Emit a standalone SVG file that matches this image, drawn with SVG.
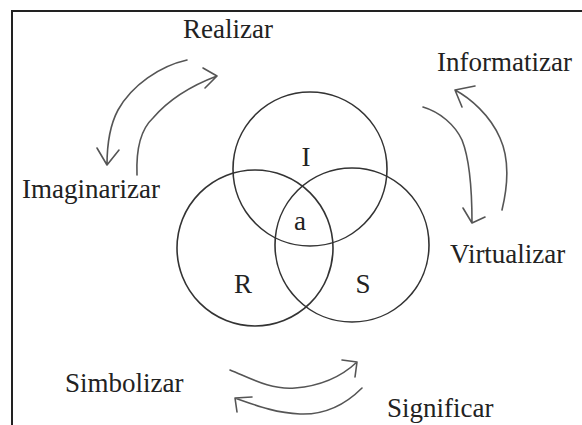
<svg xmlns="http://www.w3.org/2000/svg" width="582" height="425" viewBox="0 0 582 425">
<style>
.t{font-family:"Liberation Serif","Times New Roman",serif;font-size:27px;fill:#222}
.c{fill:none;stroke:#333;stroke-width:1.6}
.a{fill:none;stroke:#555;stroke-width:1.6;stroke-linecap:round;stroke-linejoin:round}
</style>
<rect width="582" height="425" fill="#fff"/>
<path d="M12,425 V11 H582" fill="none" stroke="#222" stroke-width="2"/>
<g id="circle-I"><circle class="c" cx="310" cy="169" r="77"/><text class="t" x="306" y="166" text-anchor="middle">I</text></g>
<g id="circle-R"><circle class="c" cx="255" cy="248" r="78"/><text class="t" x="243" y="293" text-anchor="middle">R</text></g>
<g id="circle-S"><circle class="c" cx="352" cy="245" r="77"/><text class="t" x="363" y="293" text-anchor="middle">S</text></g>
<g id="center-a"><text class="t" x="300" y="230" text-anchor="middle">a</text></g>
<g id="realizar"><text class="t" x="183" y="38">Realizar</text></g>
<g id="imaginarizar"><text class="t" x="22" y="198">Imaginarizar</text></g>
<g id="informatizar"><text class="t" x="437" y="71">Informatizar</text></g>
<g id="virtualizar"><text class="t" x="450" y="263">Virtualizar</text></g>
<g id="simbolizar"><text class="t" x="65" y="392">Simbolizar</text></g>
<g id="significar"><text class="t" x="387" y="417">Significar</text></g>
<g id="connectors">
<path class="a" d="M187,60 C160,66 132,85 118,110 C110,125 107,145 107,165 M97,148 L107,165 L119,150"/>
<path class="a" d="M137,175 C136,150 140,130 153,118 C165,104 185,88 217,76 M203,68 L217,76 L205,88"/>
<path class="a" d="M423,107 C440,112 455,125 462,140 C470,160 472,190 472,223 M463,208 L472,223 L485,217"/>
<path class="a" d="M502,210 C508,185 510,160 500,138 C490,115 470,98 455,90 M475,86 L455,90 L462,107"/>
<path class="a" d="M230,370 C250,378 270,390 295,388 C320,386 340,378 357,362 M342,360 L357,362 L355,377"/>
<path class="a" d="M362,388 C345,405 325,415 300,414 C275,413 255,405 235,398 M252,397 L235,398 L237,412"/>
</g>
</svg>
